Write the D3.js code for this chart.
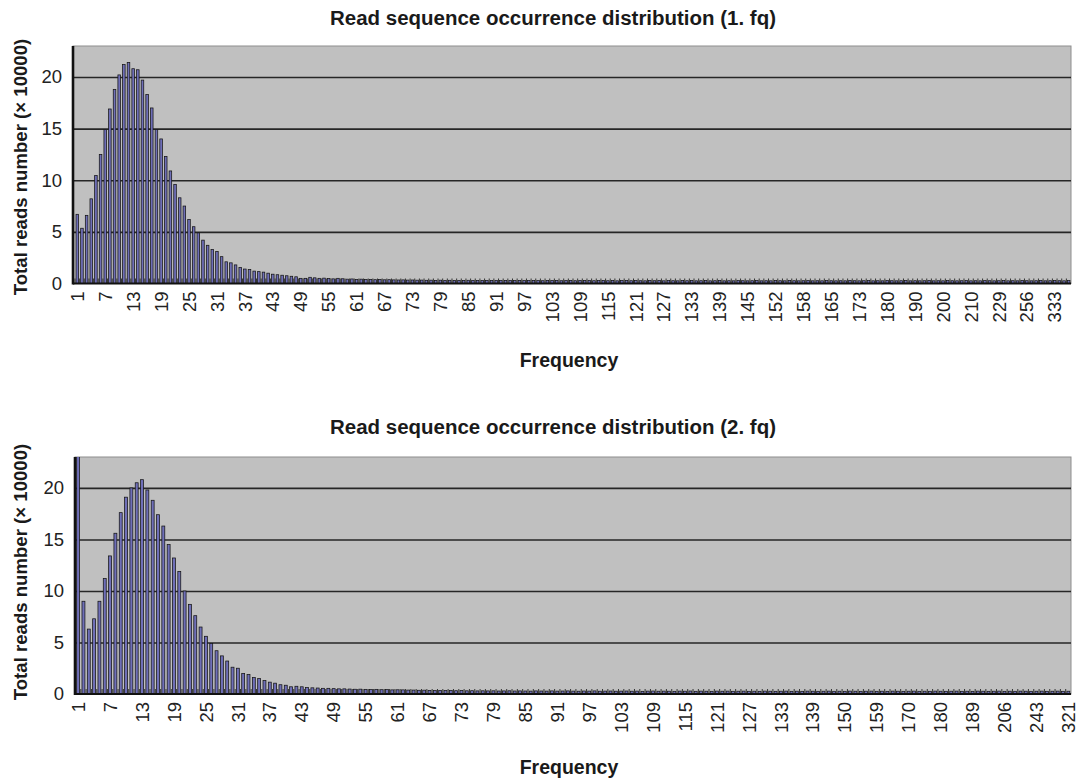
<!DOCTYPE html>
<html>
<head>
<meta charset="utf-8">
<script src="https://cdnjs.cloudflare.com/ajax/libs/d3/7.8.5/d3.min.js"></script>
<style>
  html, body { margin: 0; padding: 0; background: #ffffff; }
  svg { display: block; font-family: "Liberation Sans", Arial, Helvetica, sans-serif; }
</style>
</head>
<body>
<svg id="chart" width="1082" height="778"></svg>
<script>
// Frequencies (occurrence counts) present in run 1.fq, one category per bar
const freq1 = [
  1,2,3,4,5,6,7,8,9,10,11,12,13,14,15,16,17,18,19,20,
  21,22,23,24,25,26,27,28,29,30,31,32,33,34,35,36,37,38,39,40,
  41,42,43,44,45,46,47,48,49,50,51,52,53,54,55,56,57,58,59,60,
  61,62,63,64,65,66,67,68,69,70,71,72,73,74,75,76,77,78,79,80,
  81,82,83,84,85,86,87,88,89,90,91,92,93,94,95,96,97,98,99,100,
  101,102,103,104,105,106,107,108,109,110,111,112,113,114,115,116,117,118,119,120,
  121,122,123,124,125,126,127,128,129,130,131,132,133,134,135,136,137,138,139,140,
  141,142,143,144,145,146,147,148,149,150,152,153,154,155,156,157,158,
  159,160,161,163,164,165,166,167,169,170,171,173,174,175,176,177,178,180,
  181,182,184,186,188,190,191,193,195,196,198,200,201,203,205,207,208,210,
  212,215,218,221,225,229,232,236,240,245,250,256,263,272,283,297,312,333,
  368,421,517
];

// Total reads (x 10000) for each frequency in run 1.fq
const reads1 = [
  6.7,5.35,6.6,8.2,10.45,12.5,14.9,16.9,18.8,20.2,
  21.2,21.4,20.8,20.7,19.7,18.3,17.0,14.9,14.0,12.3,
  10.9,9.6,8.3,7.5,6.2,5.5,4.9,4.2,3.7,3.3,
  3.1,2.6,2.1,2.0,1.8,1.55,1.4,1.35,1.2,1.15,
  1.1,1.0,0.9,0.85,0.8,0.75,0.7,0.65,0.5,0.5,0.6,
  0.55,0.5,0.52,0.48,0.45,0.5,0.46,0.42,0.44,0.4,0.42,0.38,0.4,0.37,0.38,0.36,0.37,0.35,0.34,0.35,
  0.33,0.34,0.32,0.33,0.31,0.32,0.3,0.32,0.3,0.31,0.3,0.29,0.3,0.31,0.29,0.3,0.28,0.3,0.29,0.3,
  0.28,0.3,0.29,0.28,0.3,0.28,0.29,0.3,0.28,0.27,0.29,0.28,0.3,0.27,0.28,0.29,0.27,0.28,0.3,0.28,
  0.27,0.28,0.29,0.27,0.28,0.26,0.28,0.29,0.27,0.28,0.27,0.26,0.28,0.27,0.29,0.26,0.28,0.27,0.26,0.28,
  0.27,0.28,0.26,0.27,0.28,0.26,0.27,0.28,0.26,0.27,0.26,0.28,0.27,0.26,0.27,0.28,0.26,0.27,0.26,0.28,
  0.27,0.26,0.28,0.27,0.26,0.27,0.28,0.26,0.27,0.26,0.28,0.27,0.26,0.27,0.26,0.28,0.27,0.26,0.27,0.28,
  0.26,0.27,0.26,0.28,0.27,0.26,0.27,0.28,0.26,0.27,0.26,0.27,0.28,0.26,0.27,0.26,0.28,0.27,0.26,0.27,
  0.28,0.26,0.27,0.26,0.28,0.27,0.26,0.27,0.28,0.26,0.27,0.26,0.28,0.27,0.26,0.27,0.28,0.26,0.27,0.28,0.27,0.26,0.28
];

// Frequencies present in run 2.fq
const freq2 = [
  1,2,3,4,5,6,7,8,9,10,11,12,13,14,15,16,17,18,19,20,
  21,22,23,24,25,26,27,28,29,30,31,32,33,34,35,36,37,38,39,40,
  41,42,43,44,45,46,47,48,49,50,51,52,53,54,55,56,57,58,59,60,
  61,62,63,64,65,66,67,68,69,70,71,72,73,74,75,76,77,78,79,80,
  81,82,83,84,85,86,87,88,89,90,91,92,93,94,95,96,97,98,99,100,
  101,102,103,104,105,106,107,108,109,110,111,112,113,114,115,116,117,118,119,120,
  121,122,123,124,125,126,127,128,129,130,131,132,133,134,135,136,137,138,139,
  141,143,144,146,148,150,151,153,154,156,157,159,161,163,165,167,168,170,
  172,173,175,177,178,180,181,183,184,186,187,189,192,194,197,200,203,206,
  210,215,221,227,234,243,252,261,272,285,301,321
];

// Total reads (x 10000) for each frequency in run 2.fq
const reads2 = [
  32,9.0,6.3,7.3,9.0,11.2,13.4,15.6,17.6,19.1,
  20.0,20.5,20.8,19.8,18.8,17.4,16.3,14.5,13.2,11.9,
  10.0,8.7,7.6,6.5,5.6,4.9,4.2,3.7,3.2,2.6,
  2.5,2.0,1.9,1.6,1.5,1.3,1.15,1.05,0.9,0.85,
  0.7,0.75,0.7,
  0.62,0.6,0.58,0.55,0.55,0.52,0.5,0.5,0.48,0.46,0.47,0.45,0.44,0.45,0.42,0.43,0.4,0.41,0.4,0.38,
  0.38,0.36,0.37,0.35,0.34,0.35,0.33,0.34,0.32,0.33,0.31,0.32,0.3,0.31,0.3,0.31,0.29,0.3,0.31,0.29,
  0.3,0.29,0.28,0.3,0.29,0.28,0.3,0.28,0.29,0.3,0.28,0.27,0.29,0.28,0.3,0.27,0.28,0.29,0.27,0.28,
  0.29,0.27,0.28,0.26,0.28,0.29,0.27,0.28,0.27,0.26,0.28,0.27,0.29,0.26,0.28,0.27,0.26,0.28,0.27,0.28,
  0.26,0.27,0.28,0.26,0.27,0.26,0.28,0.27,0.26,0.27,0.28,0.26,0.27,0.26,0.28,0.27,0.26,0.27,0.28,0.26,
  0.27,0.26,0.28,0.27,0.26,0.27,0.28,0.26,0.27,0.26,0.28,0.27,0.26,0.27,0.28,0.26,0.27,0.26,0.28,0.27,
  0.26,0.27,0.28,0.26,0.27,0.26,0.28,0.27,0.26,0.27,0.28,0.26,0.27,0.26,0.28,0.27,0.26,0.27,0.28,0.26,0.27,0.28,0.26,0.27
];

// Labelled frequencies on each category axis
const ticks1 = [1,7,13,19,25,31,37,43,49,55,61,67,73,79,85,91,97,103,109,115,121,127,133,139,145,
                152,158,165,173,180,190,200,210,229,256,333];
const ticks2 = [1,7,13,19,25,31,37,43,49,55,61,67,73,79,85,91,97,103,109,115,121,127,133,139,
                150,159,170,180,189,206,243,321];

const yTicks = [0,5,10,15,20];
const yMax = 23;

const svg = d3.select("#chart");

function drawPanel(opt) {
  const g = svg.append("g");
  const { left, bandStart, right, top, bottom } = opt;

  const x = d3.scaleBand()
    .domain(opt.freq)
    .range([bandStart, right])
    .paddingInner(0.45)
    .paddingOuter(0.22);
  const y = d3.scaleLinear().domain([0, yMax]).range([bottom, top]);

  // plot area
  g.append("rect")
    .attr("x", left).attr("y", top)
    .attr("width", right - left).attr("height", bottom - top)
    .attr("fill", "#c0c0c0")
    .attr("stroke", "#8e8e8e").attr("stroke-width", 1);

  // horizontal gridlines
  const grid = g.append("g")
    .attr("transform", `translate(${left},0)`)
    .call(d3.axisLeft(y).tickValues(yTicks.filter(v => v > 0)).tickSize(-(right - left)).tickFormat(""));
  grid.select(".domain").remove();
  grid.selectAll("line").attr("stroke", "#262626").attr("stroke-width", 1.6);

  // clip for bars running off the top
  const clipId = "clip-" + opt.id;
  g.append("clipPath").attr("id", clipId)
    .append("rect").attr("x", left).attr("y", top)
    .attr("width", right - left).attr("height", bottom - top);

  const data = opt.freq.map((f, i) => ({ f, v: opt.reads[i] }));
  g.append("g").attr("clip-path", `url(#${clipId})`)
    .selectAll("rect")
    .data(data)
    .join("rect")
    .attr("x", d => x(d.f))
    .attr("width", x.bandwidth())
    .attr("y", d => y(d.v))
    .attr("height", d => y(0) - y(d.v))
    .attr("fill", "#6f6fb8")
    .attr("stroke", "#141414")
    .attr("stroke-width", 0.75);

  // category tick marks between bars
  const step = x.step();
  const marks = g.append("g");
  opt.freq.forEach(f => {
    const cx = x(f) - (step - x.bandwidth()) / 2;
    marks.append("line")
      .attr("x1", cx).attr("x2", cx)
      .attr("y1", bottom).attr("y2", bottom - 5)
      .attr("stroke", "#222").attr("stroke-width", 0.9);
  });

  // axis lines
  g.append("line")
    .attr("x1", left).attr("x2", right)
    .attr("y1", bottom).attr("y2", bottom)
    .attr("stroke", "#111").attr("stroke-width", 2);
  g.append("line")
    .attr("x1", left).attr("x2", left)
    .attr("y1", top).attr("y2", bottom + 1)
    .attr("stroke", "#111").attr("stroke-width", 2.6);

  // y axis labels
  const ya = g.append("g")
    .attr("transform", `translate(${left},0)`)
    .call(d3.axisLeft(y).tickValues(yTicks).tickSize(0).tickPadding(11));
  ya.select(".domain").remove();
  ya.selectAll("text")
    .attr("font-size", 18.5).attr("fill", "#222")
    .style("font-family", "'Liberation Sans', Arial, sans-serif");

  // x axis labels, rotated
  const xa = g.append("g")
    .attr("transform", `translate(0,${bottom})`)
    .call(d3.axisBottom(x).tickValues(opt.ticks).tickSize(0));
  xa.select(".domain").remove();
  xa.selectAll("text")
    .attr("transform", "rotate(-90)")
    .attr("x", -8).attr("y", 0).attr("dy", "0.36em")
    .style("text-anchor", "end")
    .attr("font-size", 18.5).attr("fill", "#222")
    .style("font-family", "'Liberation Sans', Arial, sans-serif");

  // titles
  g.append("text")
    .attr("x", opt.titleX).attr("y", opt.titleY)
    .attr("text-anchor", "middle")
    .attr("font-size", 19.5).attr("font-weight", "bold").attr("fill", "#1a1a1a")
    .attr("textLength", 446).attr("lengthAdjust", "spacingAndGlyphs")
    .text(opt.title);
  g.append("text")
    .attr("x", 569).attr("y", opt.xTitleY)
    .attr("text-anchor", "middle")
    .attr("font-size", 19.5).attr("font-weight", "bold").attr("fill", "#1a1a1a")
    .text("Frequency");
  g.append("text")
    .attr("transform", `translate(20,${opt.yTitleY}) rotate(-90)`)
    .attr("text-anchor", "middle").attr("dy", "0.35em")
    .attr("font-size", 18.6).attr("font-weight", "bold").attr("fill", "#1a1a1a")
    .text("Total reads number (\u00d7 10000)");
}

drawPanel({
  id: "a", freq: freq1, reads: reads1, ticks: ticks1,
  left: 73, bandStart: 75, right: 1071, top: 46, bottom: 283.5,
  title: "Read sequence occurrence distribution (1. fq)",
  titleX: 553, titleY: 25, xTitleY: 367, yTitleY: 167
});

drawPanel({
  id: "b", freq: freq2, reads: reads2, ticks: ticks2,
  left: 75, bandStart: 75.5, right: 1071, top: 457, bottom: 694,
  title: "Read sequence occurrence distribution (2. fq)",
  titleX: 553, titleY: 434, xTitleY: 774, yTitleY: 572
});
</script>
</body>
</html>
